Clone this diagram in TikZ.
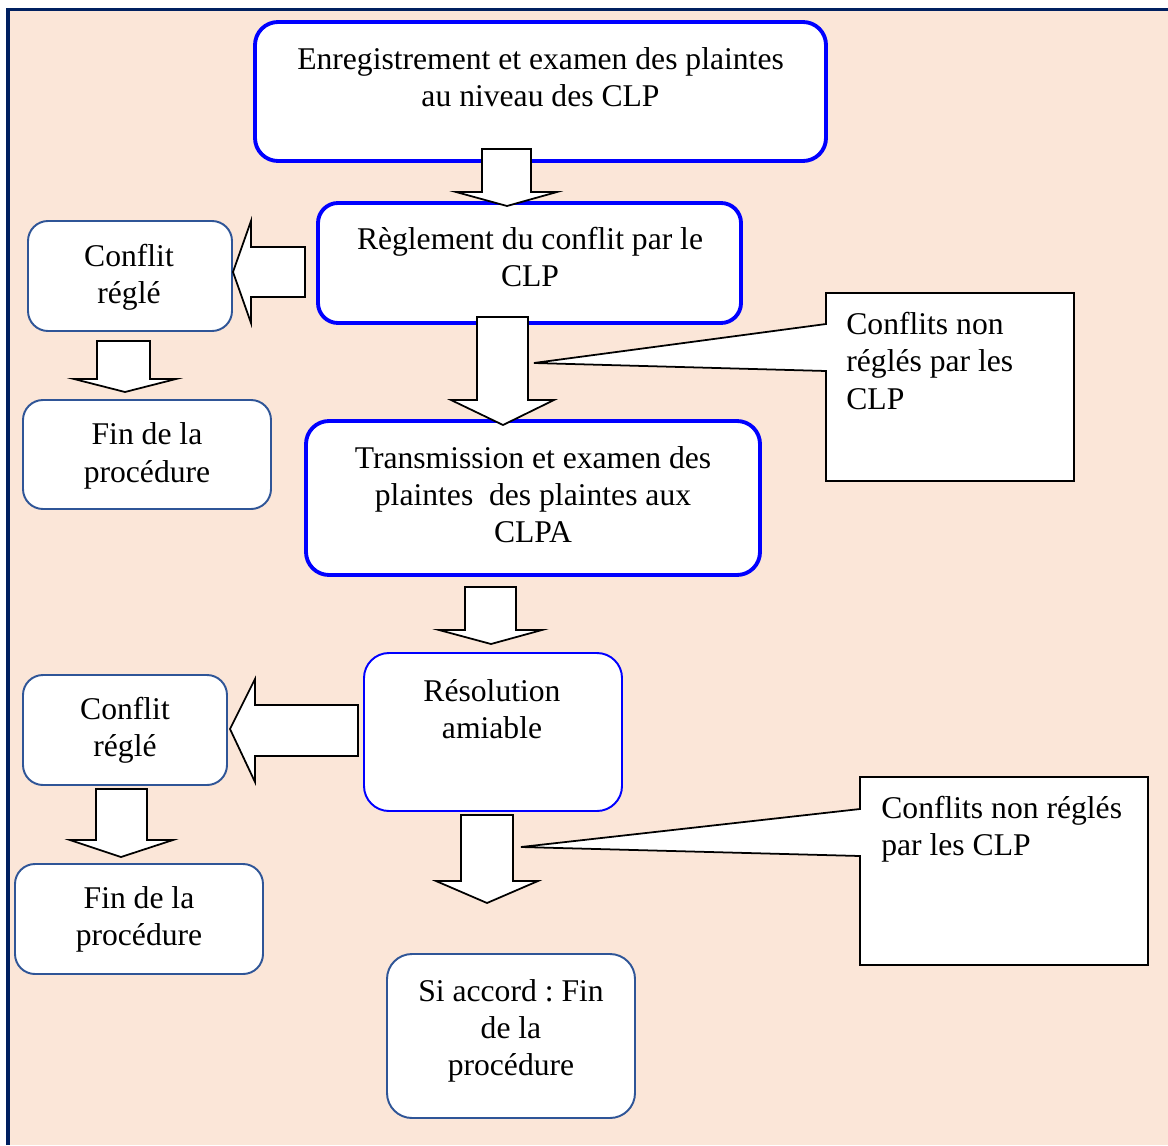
\documentclass[tikz,border=0pt]{standalone}
\usepackage{fontspec}
\setmainfont{Liberation Serif}
\definecolor{peach}{HTML}{FBE6D8}
\definecolor{navy}{HTML}{002060}
\definecolor{boxblue}{HTML}{0000FF}
\definecolor{thinblue}{HTML}{2F5597}
\frenchspacing
\begin{document}
\begin{tikzpicture}[x=0.02cm,y=-0.02cm,
  txt/.style={inner sep=0pt,align=center,anchor=north,font=\fontsize{18}{21.3}\selectfont,execute at begin node={\rule{0pt}{16pt}}},
  ltxt/.style={inner sep=0pt,align=left,anchor=north west,font=\fontsize{18}{21.3}\selectfont,execute at begin node={\rule{0pt}{16pt}}},
  bigbox/.style={draw=boxblue,line width=2.2pt,fill=white,inner sep=0pt,rounded corners=0.46cm},
  resbox/.style={draw=boxblue,line width=1.1pt,fill=white,inner sep=0pt,rounded corners=0.5cm},
  smallbox/.style={draw=thinblue,line width=1.1pt,fill=white,inner sep=0pt,rounded corners=0.4cm},
  blockarrow/.style={draw=black,line width=1pt,fill=white,line join=miter},
  callout/.style={draw=black,line width=1pt,fill=white,line join=miter}]
\useasboundingbox (0,0) rectangle (1168,1145);
\fill[white] (0,0) rectangle (1168,1145);
\fill[peach] (8,9) rectangle (1168,1145);
\draw[navy,line width=2pt] (8,1145) -- (8,9.5) -- (1168,9.5);

% boxes
\node[bigbox,minimum width=571*0.02cm,minimum height=139*0.02cm] (b1) at (540.5,91.5) {};
\node[bigbox,minimum width=423*0.02cm,minimum height=120*0.02cm,rounded corners=0.4cm] (b2) at (529.5,263) {};
\node[smallbox,minimum width=204*0.02cm,minimum height=110*0.02cm] (cr1) at (130,276) {};
\node[smallbox,minimum width=248*0.02cm,minimum height=109*0.02cm] (fin1) at (147,454.5) {};
\node[bigbox,minimum width=454*0.02cm,minimum height=154*0.02cm] (b3) at (533,498) {};
\node[resbox,minimum width=258*0.02cm,minimum height=158*0.02cm] (res) at (493,732) {};
\node[smallbox,minimum width=204*0.02cm,minimum height=110*0.02cm] (cr2) at (125,730) {};
\node[smallbox,minimum width=248*0.02cm,minimum height=110*0.02cm] (fin2) at (139,919) {};
\node[smallbox,minimum width=248*0.02cm,minimum height=164*0.02cm,rounded corners=0.5cm] (si) at (511,1036) {};

% callouts
\draw[callout] (826,293) -- (1074,293) -- (1074,481) -- (826,481) -- (826,371) -- (534,363) -- (826,324) -- cycle;
\draw[callout] (860,777) -- (1148,777) -- (1148,965) -- (860,965) -- (860,856) -- (521,847) -- (860,809) -- cycle;

% block arrows
\draw[blockarrow] (482,149) -- (531,149) -- (531,192) -- (557,192) -- (507,206) -- (456,192) -- (482,192) -- cycle;
\draw[blockarrow] (305,247) -- (305,297) -- (251,297) -- (251,323) -- (233,272) -- (251,221) -- (251,247) -- cycle;
\draw[blockarrow] (97,341) -- (150,341) -- (150,379) -- (176,379) -- (125,392) -- (74,379) -- (97,379) -- cycle;
\draw[blockarrow] (477,317) -- (528,317) -- (528,400) -- (554,400) -- (503,425) -- (451,400) -- (477,400) -- cycle;
\draw[blockarrow] (465,587) -- (516,587) -- (516,630) -- (542,630) -- (491,644) -- (439,630) -- (465,630) -- cycle;
\draw[blockarrow] (358,705) -- (358,756) -- (255,756) -- (255,782) -- (230,729) -- (255,679) -- (255,705) -- cycle;
\draw[blockarrow] (96,789) -- (147,789) -- (147,840) -- (173,840) -- (121,857) -- (70,840) -- (96,840) -- cycle;
\draw[blockarrow] (461,815) -- (513,815) -- (513,881) -- (538,881) -- (487,903) -- (436,881) -- (461,881) -- cycle;

% texts
\node[txt] (t1) at (540.5,46.8) {Enregistrement et examen des plaintes\\au niveau des CLP};
\node[txt] (t2) at (530,226.8) {Règlement du conflit par le\\CLP};
\node[txt] (t3) at (129,243.8) {Conflit\\réglé};
\node[txt] (t4) at (147,422.5) {Fin de la\\procédure};
\node[ltxt] (c1) at (846,311.8) {Conflits non\\réglés par les\\CLP};
\node[txt] (t5) at (533,445.8) {Transmission et examen des\\plaintes\ \ des plaintes aux\\CLPA};
\node[txt] (t6) at (492,678.8) {Résolution\\amiable};
\node[txt] (t7) at (125,696.8) {Conflit\\réglé};
\node[txt] (t8) at (139,885.8) {Fin de la\\procédure};
\node[ltxt] (c2) at (881,795.8) {Conflits non réglés\\par les CLP};
\node[txt] (t9) at (511,978.8) {Si accord : Fin\\de la\\procédure};
\end{tikzpicture}
\end{document}
